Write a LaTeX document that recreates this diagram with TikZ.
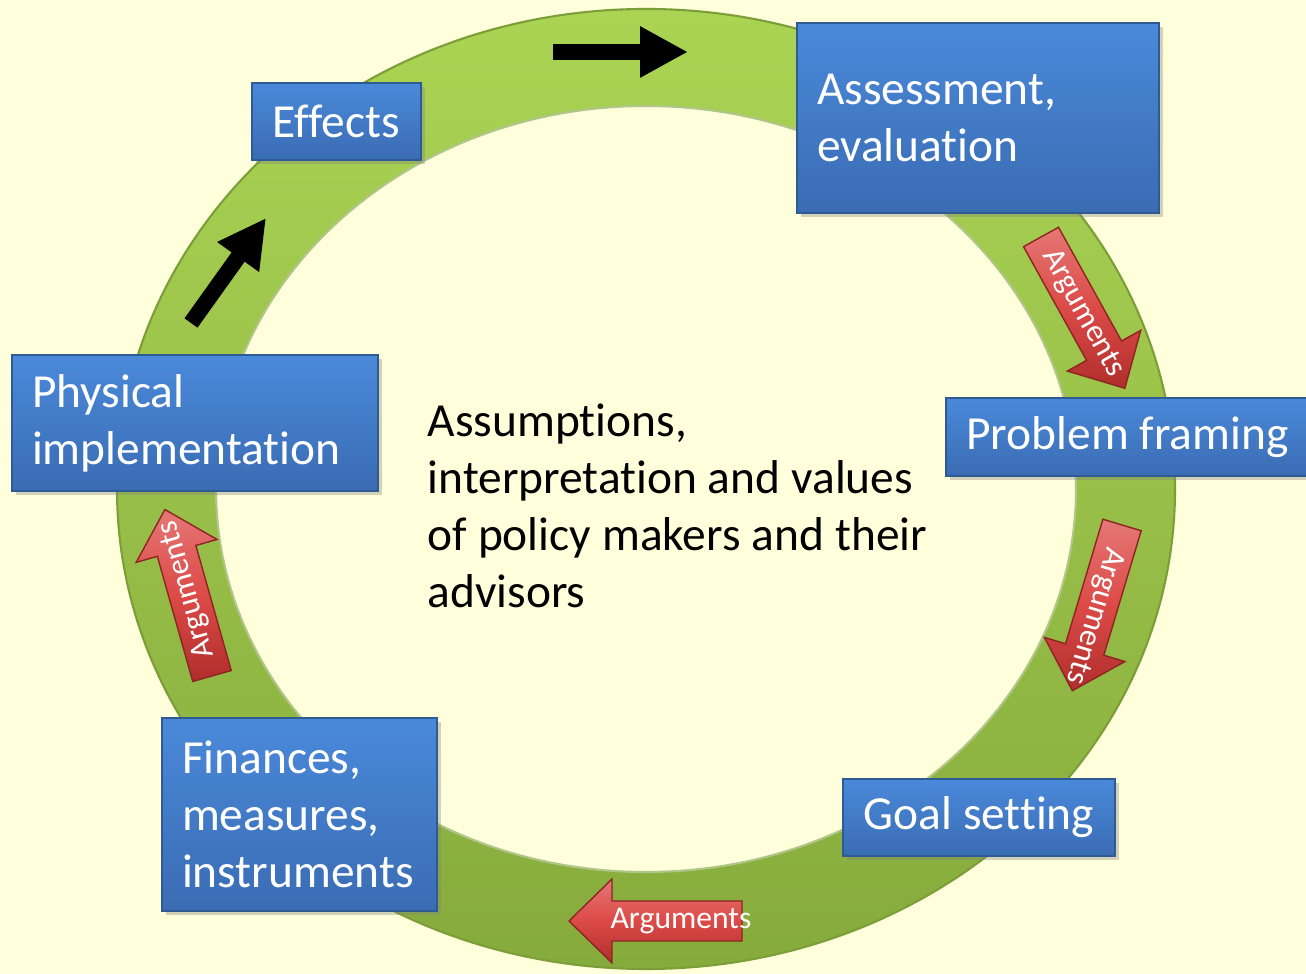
\documentclass[tikz,border=0pt]{standalone}
\usepackage{fontspec}
\setmainfont{Carlito}[Ligatures=NoCommon]
\usetikzlibrary{positioning, calc, arrows.meta, shadows}
\definecolor{bgyellow}{HTML}{FFFFDC}
\definecolor{ringtop}{HTML}{ABD454}
\definecolor{ringbot}{HTML}{86AB3D}
\definecolor{ringline}{HTML}{7C9E38}
\definecolor{xblue}{HTML}{4A89DA}
\definecolor{xdarkblue}{HTML}{3A6CB3}
\definecolor{xblueline}{HTML}{2F5A92}
\definecolor{xred}{HTML}{DC4A47}
\definecolor{xdarkred}{HTML}{B02E2C}
\tikzset{
	stage/.style={
		draw=xblueline, line width=0.6pt,
		top color=xblue, bottom color=xdarkblue,
		text=white, inner xsep=0.2cm, inner ysep=0pt,
		drop shadow={shadow xshift=0.04cm, shadow yshift=-0.04cm, opacity=0.35},
		font=\fontsize{13.5}{16.2}\selectfont,
	},
	multistage/.style={stage, align=left},
	bigarrow/.style={-{Triangle[length=0.48cm, width=0.48cm]}, line width=0.16cm},
	argshape/.style={draw=xdarkred!80!black, line width=0.4pt, top color=xred!75!white, bottom color=xdarkred, middle color=xred},
	argtext/.style={text=white, inner sep=0pt, font=\fontsize{9}{10}\selectfont},
}
% name, tail, direction, text position, text angle
\newcommand{\argarrow}[5]{%
	\begin{scope}[shift={#2}, rotate=#3]
		\path[argshape] (0,-0.2) -- (1.3,-0.2) -- (1.3,-0.42) -- (1.73,0) -- (1.3,0.42) -- (1.3,0.2) -- (0,0.2) -- cycle;
		\node[argtext, rotate=#5] (#1) at (#4,0) {Arguments};
	\end{scope}
}
\begin{document}
\begin{tikzpicture}
		\useasboundingbox (0,0) rectangle (13.06,9.74);
		\fill[bgyellow] (0,0) rectangle (13.06,9.74);

		\coordinate (O) at (6.46,4.85);
		\path[even odd rule, top color=ringtop, bottom color=ringbot] (O) ellipse [x radius=5.29, y radius=4.80] (O) ellipse [x radius=4.30, y radius=3.83];
		\draw[ringline, line width=0.6pt] (O) ellipse [x radius=5.29, y radius=4.80];
		\draw[ringline!60!white, line width=0.6pt] (O) ellipse [x radius=4.30, y radius=3.83];

		\coordinate (toptail) at (5.53,9.22);
		\coordinate (toptip) at (6.88,9.22);
		\coordinate (lefttail) at (1.91,6.51);
		\coordinate (lefttip) at (2.66,7.56);
		\draw[bigarrow] (toptail) -- (toptip);
		\draw[bigarrow] (lefttail) -- (lefttip);

		\argarrow{arg1}{(10.41,7.37)}{-61}{0.87}{-61}
		\argarrow{arg2}{(11.22,4.49)}{-106.7}{0.95}{-106.7}
		\argarrow{arg3}{(7.42,0.53)}{180}{0.61}{0}
		\argarrow{arg4}{(2.12,2.98)}{105.8}{0.90}{105.8}

		\node[stage, minimum width=1.69cm, minimum height=0.77cm] (effects) at (3.365,8.525) {Effects};
		\node[multistage, text width=3.22cm, minimum height=1.90cm] (assess) at (9.78,8.56) {Assessment,\\evaluation};
		\node[stage, minimum width=3.61cm, minimum height=0.78cm] (framing) at (11.275,5.37) {Problem framing};
		\node[stage, minimum width=2.72cm, minimum height=0.77cm] (goal) at (9.79,1.565) {Goal setting};
		\node[multistage, text width=2.35cm, minimum height=1.93cm] (finance) at (2.995,1.595) {Finances,\\measures,\\instruments};
		\node[multistage, text width=3.26cm, minimum height=1.36cm] (physical) at (1.95,5.51) {Physical\\implementation};

		\node[anchor=base west, text width=5.4cm, align=left, inner sep=0pt, font=\fontsize{13.5}{16.2}\selectfont] (values) at (4.27,5.37) {\spaceskip=0.23em\relax Assumptions,\\interpretation and values\\of policy makers and their\\advisors};
	\end{tikzpicture}
\end{document}
